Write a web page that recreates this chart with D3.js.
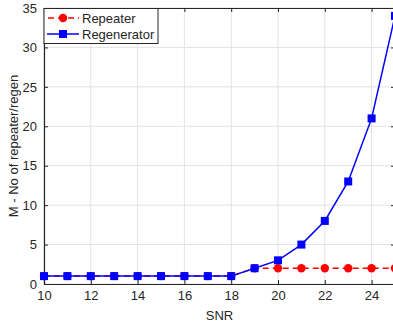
<!DOCTYPE html>
<html>
<head>
<meta charset="utf-8">
<script src="https://cdn.jsdelivr.net/npm/d3@7"></script>
<style>
  body { margin: 0; background: #fff; }
  text { font-family: "Liberation Sans", Arial, sans-serif; fill: #262626; }
</style>
</head>
<body>
<svg id="chart" width="393" height="325"></svg>
<script>
const snr = [10, 11, 12, 13, 14, 15, 16, 17, 18, 19, 20, 21, 22, 23, 24, 25]
const repeater = [1, 1, 1, 1, 1, 1, 1, 1, 1, 2, 2, 2, 2, 2, 2, 2]
const regenerator = [1, 1, 1, 1, 1, 1, 1, 1, 1, 2, 3, 5, 8, 13, 21, 34]
const x_ticks = [10, 12, 14, 16, 18, 20, 22, 24]
const y_ticks = [0, 5, 10, 15, 20, 25, 30, 35]

let margin = {top: 8, right: 0, bottom: 41, left: 44}
let width = 393, height = 325
let svg = d3.select("#chart")

let x = d3.scaleLinear().domain([10, 25]).range([margin.left, margin.left + 23.4 * 15])
let y = d3.scaleLinear().domain([0, 35]).range([height - margin.bottom, margin.top])

let x_right = x(25)
let grid = svg.append("g")
grid.selectAll(".vg").data(x_ticks).enter().append("line")
  .attr("x1", d => x(d)).attr("x2", d => x(d))
  .attr("y1", y(0)).attr("y2", y(35))
  .attr("stroke", "#e3e3e3").attr("stroke-width", 1)
grid.selectAll(".hg").data(y_ticks).enter().append("line")
  .attr("y1", d => y(d)).attr("y2", d => y(d))
  .attr("x1", x(10)).attr("x2", x_right)
  .attr("stroke", "#e3e3e3").attr("stroke-width", 1)

// axes
let x_axis = d3.axisBottom(x).tickValues(x_ticks).tickSize(-4).tickPadding(7)
svg.append("g").attr("transform", `translate(0, ${y(0)})`).call(x_axis)
  .call(g => g.select(".domain").attr("stroke", "#262626").attr("stroke-width", 1.2))
let y_axis = d3.axisLeft(y).tickValues(y_ticks).tickSize(-4).tickPadding(7)
svg.append("g").attr("transform", `translate(${x(10)}, 0)`).call(y_axis)
  .call(g => g.select(".domain").attr("stroke", "#262626").attr("stroke-width", 1.2))
svg.append("g").attr("transform", `translate(0, ${y(35)})`)
  .call(d3.axisTop(x).tickValues(x_ticks).tickSize(-4).tickFormat(""))
  .call(g => g.select(".domain").attr("stroke", "#262626").attr("stroke-width", 1.2))
svg.append("g").attr("transform", `translate(${x_right}, 0)`)
  .call(d3.axisRight(y).tickValues(y_ticks).tickSize(-4).tickFormat(""))
  .call(g => g.select(".domain").attr("stroke", "#262626").attr("stroke-width", 1.2))
svg.selectAll(".tick line").attr("stroke", "#262626")
svg.selectAll(".tick text").attr("font-size", 13).attr("fill", "#262626")
  .style("font-family", "Liberation Sans, Arial, sans-serif")

svg.append("text").attr("x", (x(10) + x_right) / 2).attr("y", 320)
  .attr("text-anchor", "middle").attr("font-size", 13).text("SNR")
svg.append("text").attr("transform", `translate(18, ${(y(0) + y(35)) / 2}) rotate(-90)`)
  .attr("text-anchor", "middle").attr("font-size", 13).text("M - No of repeater/regen")

// lines
let line = (vals) => d3.line().x((d, i) => x(snr[i])).y(d => y(d))(vals)
svg.append("path").attr("d", line(repeater)).attr("fill", "none")
  .attr("stroke", "#ff0000").attr("stroke-width", 1.5).attr("stroke-dasharray", "6,4")
svg.selectAll(".rp").data(repeater).enter().append("circle")
  .attr("cx", (d, i) => x(snr[i])).attr("cy", d => y(d)).attr("r", 4.2).attr("fill", "#ff0000")
svg.append("path").attr("d", line(regenerator)).attr("fill", "none")
  .attr("stroke", "#0000ff").attr("stroke-width", 1.5)
svg.selectAll(".rg").data(regenerator).enter().append("rect")
  .attr("x", (d, i) => x(snr[i]) - 4).attr("y", d => y(d) - 4)
  .attr("width", 8).attr("height", 8).attr("fill", "#0000ff")

// legend
let lg = svg.append("g")
lg.append("rect").attr("x", 44).attr("y", 8.5).attr("width", 114).attr("height", 35)
  .attr("fill", "#fff").attr("stroke", "#262626").attr("stroke-width", 1)
lg.append("line").attr("x1", 47).attr("x2", 79).attr("y1", 18).attr("y2", 18)
  .attr("stroke", "#ff0000").attr("stroke-width", 1.5).attr("stroke-dasharray", "6,4")
  .attr("stroke-dashoffset", -1)
lg.append("circle").attr("cx", 63).attr("cy", 18).attr("r", 4.2).attr("fill", "#ff0000")
lg.append("text").attr("x", 82).attr("y", 22.5).attr("font-size", 13).attr("fill", "#000").text("Repeater")
lg.append("line").attr("x1", 47).attr("x2", 79).attr("y1", 34).attr("y2", 34)
  .attr("stroke", "#0000ff").attr("stroke-width", 1.5)
lg.append("rect").attr("x", 59).attr("y", 30).attr("width", 8).attr("height", 8).attr("fill", "#0000ff")
lg.append("text").attr("x", 82).attr("y", 38.5).attr("font-size", 13).attr("fill", "#000").text("Regenerator")
</script>
</body>
</html>
